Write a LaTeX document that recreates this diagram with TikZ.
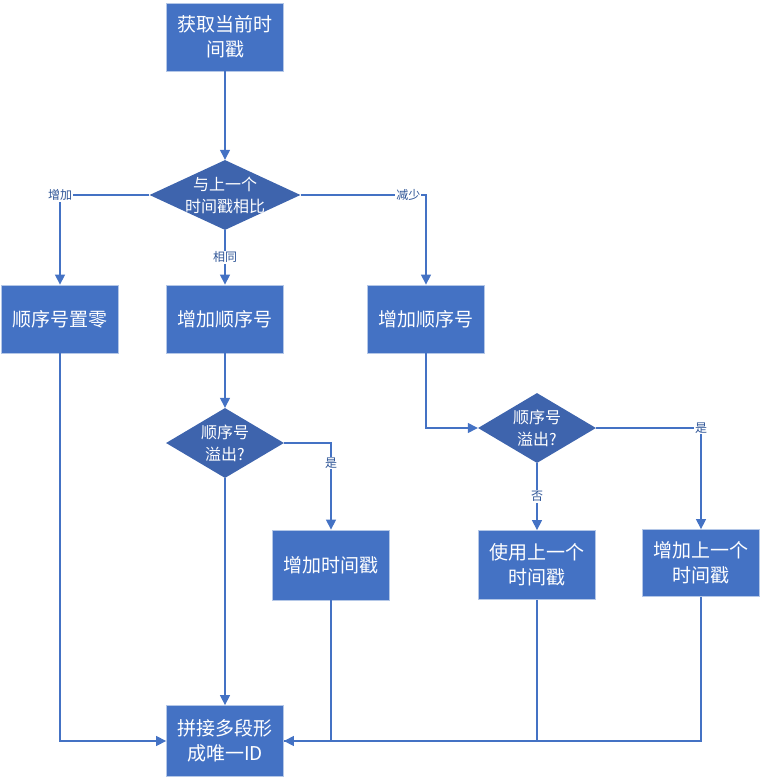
\documentclass[tikz,border=0pt]{standalone}
\usepackage{fontspec}
\setmainfont{Noto Sans CJK SC}
\usetikzlibrary{positioning,arrows.meta,shapes.geometric}
\definecolor{blau}{HTML}{4472C4}
\definecolor{dunkel}{HTML}{3E64AD}
\definecolor{rand}{HTML}{B4C7E7}
\definecolor{schrift}{HTML}{2F5597}

\begin{document}
\begin{tikzpicture}[x=1pt,y=-1pt,
    box/.style={draw=rand,line width=0.8pt,fill=blau,text=white,align=center,minimum width=117pt,minimum height=68pt,font=\fontsize{19}{25}\selectfont},
    raute/.style={diamond,fill=dunkel,inner sep=0pt,minimum width=#1,minimum height=70pt},
    rtext/.style={text=white,align=center,font=\fontsize{16}{22}\selectfont},
    lab/.style={fill=white,inner sep=1pt,text=schrift,font=\fontsize{12}{14}\selectfont},
    pfeil/.style={draw=blau,line width=1.3pt,-{Triangle[length=10pt,width=10pt]}},
    linie/.style={draw=blau,line width=1.3pt}]
    \useasboundingbox (0,0) rectangle (763,779);

    \node[box] (start) at (225,37) {获取当前时\\间戳};
    \node[raute=151pt,label={[rtext]center:与上一个\\时间戳相比}] (vgl) at (225,195) {};
    \node[box] (null) at (60,319) {顺序号置零};
    \node[box] (inc) at (225,319) {增加顺序号};
    \node[box] (inc2) at (426,319) {增加顺序号};
    \node[raute=118pt,label={[rtext]center:顺序号\\溢出?}] (ueb) at (225,443) {};
    \node[raute=118pt,label={[rtext]center:顺序号\\溢出?}] (ueb2) at (537,428) {};
    \node[box,minimum height=70pt] (zeit) at (331,565) {增加时间戳};
    \node[box,minimum height=69pt] (alt) at (537,565) {使用上一个\\时间戳};
    \node[box,minimum height=67pt] (altplus) at (701,563) {增加上一个\\时间戳};
    \node[box,minimum height=71pt] (ende) at (225,741) {拼接多段形\\成唯一ID};

    \draw[pfeil] (start) -- (vgl);
    \draw[pfeil] (vgl.west) -| node[lab] {增加} (null);
    \draw[pfeil] (vgl.south) -- node[lab] {相同} (inc);
    \draw[pfeil] (vgl.east) -| node[lab,pos=0.43] {减少} (inc2);
    \draw[pfeil] (inc) -- (ueb);
    \draw[pfeil] (ueb.east) -| node[lab,pos=0.615] {是} (zeit);
    \draw[pfeil] (inc2.south) |- (ueb2.west);
    \draw[pfeil] (ueb2.east) -| node[lab] {是} (altplus);
    \draw[pfeil] (ueb2.south) -- node[lab] {否} (alt);
    \draw[pfeil] (ueb.south) -- (ende);
    \draw[pfeil] (null.south) |- (ende.west);
    \draw[linie] (zeit.south) |- (ende.east);
    \draw[linie] (alt.south) |- (ende.east);
    \draw[pfeil] (altplus.south) |- (ende.east);
\end{tikzpicture}
\end{document}
